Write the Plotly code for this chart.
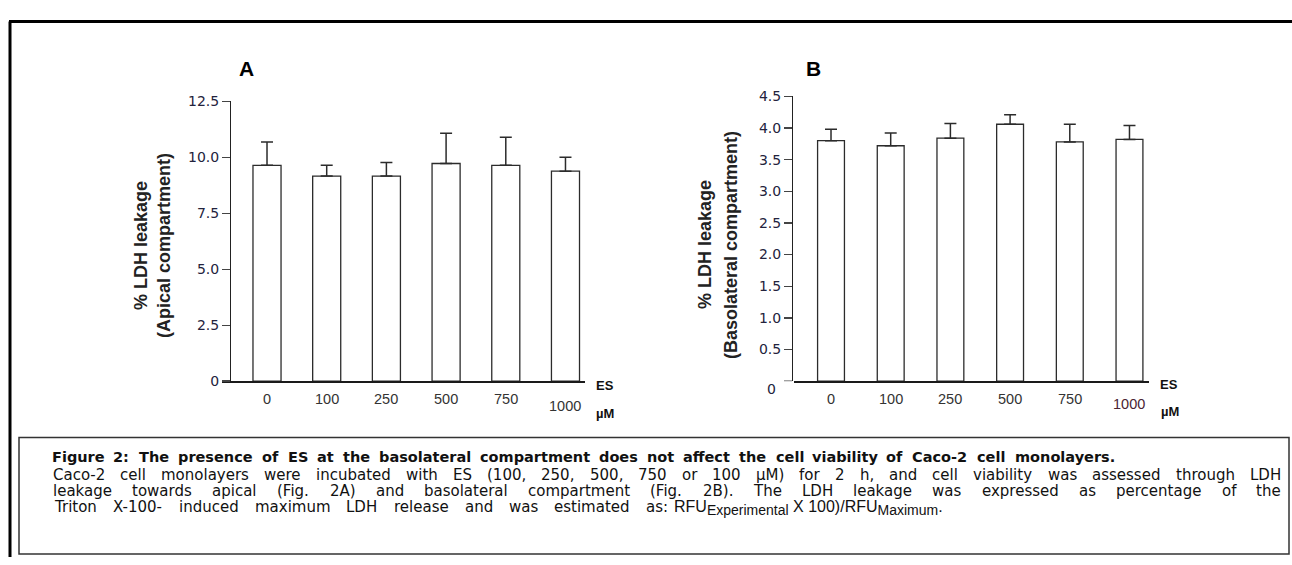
import plotly.graph_objects as go

W, H = 1292, 565

# ---------------- data ----------------
categories = ["0", "100", "250", "500", "750", "1000"]
apical_mean = [9.64, 9.16, 9.16, 9.72, 9.64, 9.38]
apical_err = [1.04, 0.48, 0.61, 1.35, 1.25, 0.62]
baso_mean = [3.80, 3.72, 3.84, 4.06, 3.78, 3.82]
baso_err = [0.18, 0.20, 0.23, 0.15, 0.28, 0.22]

apical_tickvals = [0, 2.5, 5.0, 7.5, 10.0, 12.5]
apical_ticktext = ["0", "2.5", "5.0", "7.5", "10.0", "12.5"]
baso_tickvals = [0.5, 1.0, 1.5, 2.0, 2.5, 3.0, 3.5, 4.0, 4.5]
baso_ticktext = ["0.5", "1.0", "1.5", "2.0", "2.5", "3.0", "3.5", "4.0", "4.5"]
baso_zero_label = "0"

panel_titles = ["A", "B"]
ylabel_a = ["% LDH leakage", "(Apical compartment)"]
ylabel_b = ["% LDH leakage", "(Basolateral compartment)"]
x_unit = ["ES", "µM"]

caption_title = ("Figure 2: The presence of ES at the basolateral compartment does not "
                 "affect the cell  viability of Caco-2 cell monolayers.")
caption_body = [
    "Caco-2 cell monolayers were incubated with ES (100,  250, 500, 750 or 100 µM) for 2 h, "
    "and cell viability was assessed through LDH",
    "leakage towards apical (Fig. 2A) and basolateral compartment (Fig. 2B). The LDH leakage "
    "was  expressed as percentage of the",
    "Triton X-100- induced maximum LDH release and was  estimated as:",
]
caption_formula = ("RFU<sub><span style='font-size:14px'>Experimental</span></sub> X 100)/RFU"
                   "<sub><span style='font-size:14px'>Maximum</span></sub>.")


# ---------------- helpers ----------------
def px(x):
    return x / W


def py(y):
    return 1 - y / H


SANS = "Liberation Sans, Arial, sans-serif"
CAP = "DejaVu Sans, Verdana, sans-serif"

fig = go.Figure()

bar_line = dict(color="#2b2b2b", width=1.3)
err_style = dict(color="#2b2b2b", thickness=1.5, width=6)

fig.add_trace(go.Bar(
    x=list(range(len(categories))), y=apical_mean, width=0.47,
    marker=dict(color="white", line=bar_line),
    error_y=dict(type="data", array=apical_err, arrayminus=[0] * len(apical_err),
                 symmetric=False, **err_style),
    xaxis="x", yaxis="y", hoverinfo="skip", showlegend=False))

fig.add_trace(go.Bar(
    x=list(range(len(categories))), y=baso_mean, width=0.45,
    marker=dict(color="white", line=bar_line),
    error_y=dict(type="data", array=baso_err, arrayminus=[0] * len(baso_err),
                 symmetric=False, **err_style),
    xaxis="x2", yaxis="y2", hoverinfo="skip", showlegend=False))

ytick_font = dict(family=CAP, size=14, color="#23233d")
common_y = dict(showline=True, linecolor="#222", linewidth=1.4, ticks="outside",
                ticklen=8, tickwidth=1.3, tickcolor="#444", showgrid=False,
                zeroline=False, tickfont=ytick_font, anchor="free", fixedrange=True)
common_x = dict(showline=True, linecolor="#1a1a1a", linewidth=2, showticklabels=False,
                ticks="", showgrid=False, zeroline=False, fixedrange=True)

fig.update_layout(
    width=W, height=H, margin=dict(l=0, r=0, t=0, b=0),
    paper_bgcolor="white", plot_bgcolor="rgba(0,0,0,0)", showlegend=False,
    xaxis=dict(domain=[px(222), px(585)], range=[-0.754, 5.327], anchor="y", **common_x),
    yaxis=dict(domain=[py(384), py(96)], range=[0, 12.5], position=px(230),
               tickvals=apical_tickvals, ticktext=apical_ticktext, **common_y),
    xaxis2=dict(domain=[px(794), px(1149)], range=[-0.62, 5.327], anchor="y2", **common_x),
    yaxis2=dict(domain=[py(384), py(91)], range=[0, 4.5], position=px(792),
                tickvals=baso_tickvals, ticktext=baso_ticktext, **common_y),
)

ann = []
# category labels
for xr, ylow in (("x", 410), ("x2", 408)):
    for i, c in enumerate(categories):
        y = ylow if c == "1000" else 402
        col = "#4a2433" if (xr == "x2" and c == "1000") else "#333"
        ann.append(dict(x=i, y=py(y), xref=xr, yref="paper", text=c, showarrow=False,
                        xanchor="center", yanchor="middle",
                        font=dict(family=SANS, size=14.5, color=col)))

# B zero label (offset lower)
ann.append(dict(x=px(778), y=py(392), xref="paper", yref="paper", text=baso_zero_label,
                showarrow=False, xanchor="right", yanchor="middle", font=ytick_font))

# ES / µM
for (xe, ye), (xm, ym) in (((605, 388), (605, 417)), ((1169, 387), (1170, 415))):
    ann.append(dict(x=px(xe), y=py(ye), xref="paper", yref="paper", text=x_unit[0],
                    showarrow=False, xanchor="center", yanchor="middle",
                    font=dict(family=SANS, size=13, color="#111", weight="bold")))
    ann.append(dict(x=px(xm), y=py(ym), xref="paper", yref="paper", text=x_unit[1],
                    showarrow=False, xanchor="center", yanchor="middle",
                    font=dict(family=SANS, size=13, color="#111", weight="bold")))

# panel titles
for t, (xt, yt) in zip(panel_titles, ((247, 62), (813, 62))):
    ann.append(dict(x=px(xt), y=py(yt), xref="paper", yref="paper", text=t, showarrow=False,
                    xanchor="center", yanchor="middle",
                    font=dict(family=SANS, size=21, color="#000", weight="bold")))

# y labels
ylab_font = dict(family=SANS, size=18, color="#222", weight="bold")
for labels, xs, yc in ((ylabel_a, (141, 164), 245), (ylabel_b, (705, 731), 244)):
    for lab, xx in zip(labels, xs):
        ann.append(dict(x=px(xx), y=py(yc), xref="paper", yref="paper", text=lab,
                        showarrow=False, textangle=-90, xanchor="center", yanchor="middle",
                        font=ylab_font))

# ---------------- caption (justified word placement) ----------------
CW = {' ': 0.318, 'a': 0.613, 'b': 0.635, 'c': 0.550, 'd': 0.635, 'e': 0.615, 'f': 0.352,
      'g': 0.635, 'h': 0.634, 'i': 0.278, 'j': 0.278, 'k': 0.579, 'l': 0.278, 'm': 0.974,
      'n': 0.634, 'o': 0.612, 'p': 0.635, 'q': 0.635, 'r': 0.411, 's': 0.521, 't': 0.392,
      'u': 0.634, 'v': 0.592, 'w': 0.818, 'x': 0.592, 'y': 0.592, 'z': 0.525,
      'A': 0.684, 'B': 0.686, 'C': 0.698, 'D': 0.770, 'E': 0.632, 'F': 0.575, 'G': 0.775,
      'H': 0.752, 'I': 0.295, 'L': 0.557, 'M': 0.863, 'R': 0.695, 'S': 0.635, 'T': 0.611,
      'U': 0.732, 'X': 0.685, '.': 0.318, ',': 0.318, ':': 0.337, '(': 0.390, ')': 0.390,
      '-': 0.361, '/': 0.337, 'µ': 0.636}


def tw(s, size, bold=False):
    w = sum(CW.get(ch, 0.636) for ch in s) * size
    return w * (1.12 if bold else 1.0)


def place_justified(line, left, right, ycen, size, bold=False):
    words = line.split()
    widths = [tw(w, size, bold) for w in words]
    gap = (right - left - sum(widths)) / (len(words) - 1)
    x = left
    f = dict(family=CAP, size=size, color="#111")
    if bold:
        f["weight"] = "bold"
    for w, wd in zip(words, widths):
        ann.append(dict(x=px(x + wd / 2), y=py(ycen), xref="paper", yref="paper", text=w,
                        showarrow=False, xanchor="center", yanchor="middle", font=f))
        x += wd + gap


CAP_SIZE = 15
place_justified(caption_title, 53, 1115, 462, 14.5, bold=True)
place_justified(caption_body[0], 53, 1281, 481, CAP_SIZE)
place_justified(caption_body[1], 53, 1281, 497.5, CAP_SIZE)
place_justified(caption_body[2], 53, 668, 514, CAP_SIZE)
ann.append(dict(x=px(672), y=py(514.5), xref="paper", yref="paper", text=caption_formula,
                showarrow=False, xanchor="left", yanchor="middle",
                font=dict(family=SANS, size=16, color="#111")))

fig.update_layout(annotations=ann)

# ---------------- frame shapes ----------------
shapes = [
    dict(type="line", xref="paper", yref="paper", x0=px(9), x1=1, y0=py(14), y1=py(14),
         line=dict(color="#000", width=3)),
    dict(type="line", xref="paper", yref="paper", x0=px(10), x1=px(10), y0=py(14), y1=0,
         line=dict(color="#000", width=3)),
    dict(type="rect", xref="paper", yref="paper", x0=px(19), x1=px(1289), y0=py(562),
         y1=py(442), line=dict(color="#333", width=1.5)),
    # zero tick of panel B
    dict(type="line", xref="paper", yref="y2", x0=px(784), x1=px(792), y0=0, y1=0,
         line=dict(color="#444", width=1.3)),
]
fig.update_layout(shapes=shapes)

fig.write_html(
    "out.html",
    config={"displayModeBar": False, "staticPlot": True},
    post_script=("document.documentElement.style.margin='0px';"
                 "document.body.style.margin='0px';"
                 "document.documentElement.style.overflow='hidden';"
                 "document.body.style.overflow='hidden';"),
)
